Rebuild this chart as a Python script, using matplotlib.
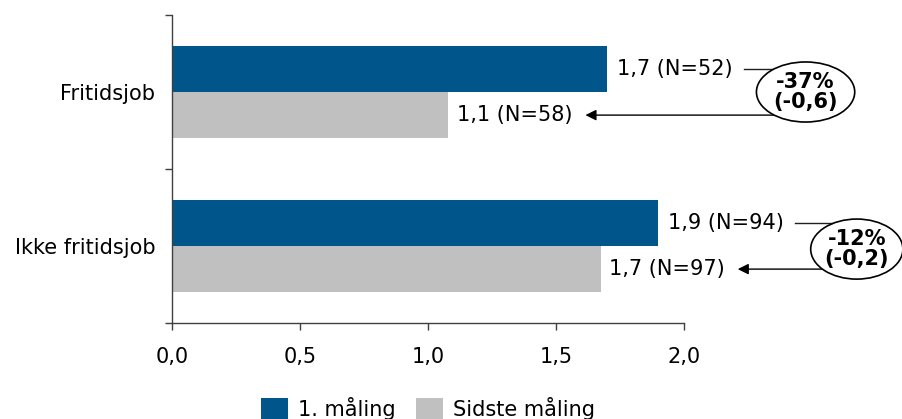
import matplotlib.pyplot as plt
from matplotlib.patches import Ellipse
import numpy as np

# data
categories = ['Fritidsjob', 'Ikke fritidsjob']
series = ['1. måling', 'Sidste måling']
first = [1.70, 1.90]
last = [1.08, 1.675]
n_first = [52, 94]
n_last = [58, 97]
change_pct = ['-37%', '-12%']
change_abs = ['(-0,6)', '(-0,2)']
xticks = [0.0, 0.5, 1.0, 1.5, 2.0]

blue = '#00568A'
grey = '#C0C0C0'
axis_col = '#404040'
fs = 15

plt.rcParams['font.family'] = ['DejaVu Sans']

fig = plt.figure(figsize=(9.02, 4.19), dpi=100)
ax = fig.add_axes([0.1907, 0.2291, 0.5676, 0.7351])

y = np.arange(len(categories))
h = 0.3
b1 = ax.barh(y - h / 2, first, height=h, color=blue, label=series[0])
b2 = ax.barh(y + h / 2, last, height=h, color=grey, label=series[1])


def fmt(v):
    return ('%.1f' % v).replace('.', ',')


for i in range(len(categories)):
    ax.annotate('%s (N=%d)' % (fmt(first[i]), n_first[i]), (first[i], y[i] - h / 2),
                xytext=(7, 0), textcoords='offset points', va='center', ha='left', fontsize=fs)
    ax.annotate('%s (N=%d)' % (fmt(last[i]), n_last[i]), (last[i], y[i] + h / 2),
                xytext=(6, 0), textcoords='offset points', va='center', ha='left', fontsize=fs)

    # change bubble, line from first label and arrow to last label
    ex = first[i] + 0.775
    ey = y[i] + (0.02 if i == 1 else 0.0)
    ax.plot([first[i] + 0.535, ex], [y[i] - h / 2, y[i] - h / 2], color='#202020',
            lw=1.0, clip_on=False, zorder=3)
    ax.annotate('', xy=(last[i] + 0.535, y[i] + h / 2), xytext=(ex, y[i] + h / 2),
                arrowprops=dict(arrowstyle='-|>', color='black', lw=1.0, mutation_scale=16,
                                shrinkA=0, shrinkB=0),
                annotation_clip=False, zorder=3)
    w = 0.384 if i == 0 else 0.36
    e = Ellipse((ex, ey), w, 0.39, facecolor='white', edgecolor='black', lw=1.2,
                clip_on=False, zorder=4)
    ax.add_patch(e)
    ax.text(ex, ey, change_pct[i] + '\n' + change_abs[i], ha='center', va='center',
            fontsize=fs, fontweight='bold', linespacing=1.0, zorder=5)

ax.set_xlim(0, 2.0)
ax.set_ylim(1.5, -0.5)
ax.set_xticks(xticks)
ax.set_xticklabels([fmt(t) for t in xticks], fontsize=fs)
ax.set_yticks(y)
ax.set_yticklabels(categories, fontsize=fs)
ax.set_yticks([-0.5, 0.5, 1.5], minor=True)
ax.tick_params(axis='y', which='major', length=0, pad=12)
ax.tick_params(axis='y', which='minor', length=5, width=1, color=axis_col, direction='out')
ax.tick_params(axis='x', length=5, width=1, color=axis_col, direction='out', pad=12)

for s in ['top', 'right']:
    ax.spines[s].set_visible(False)
for s in ['left', 'bottom']:
    ax.spines[s].set_color(axis_col)
    ax.spines[s].set_linewidth(1.0)

ax.legend(loc='upper center', bbox_to_anchor=(0.5, -0.24), ncol=2, frameon=False,
          fontsize=fs, handlelength=1.3, handleheight=1.3, handletextpad=0.5,
          columnspacing=0.95, borderpad=0, borderaxespad=0)

fig.savefig('out.png', dpi=100)
